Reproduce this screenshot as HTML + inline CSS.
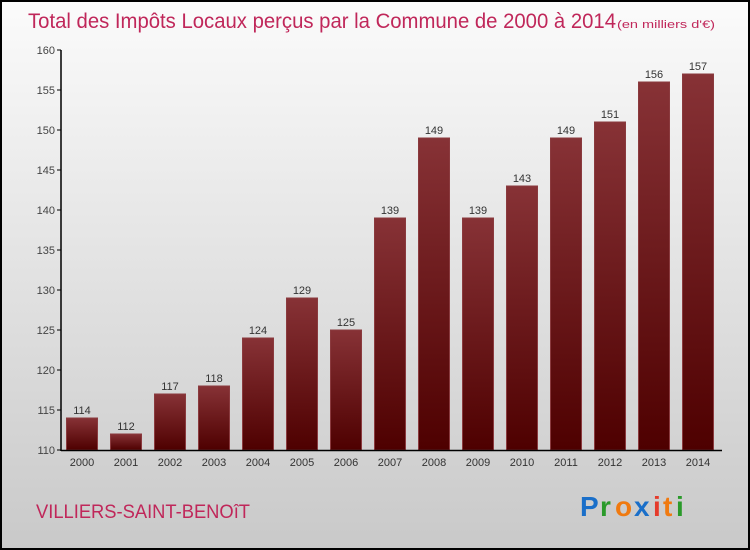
<!DOCTYPE html>
<html><head><meta charset="utf-8"><style>
body{margin:0;width:750px;height:550px;overflow:hidden}
svg{display:block}
</style></head><body>
<svg id="c" width="750" height="550" xmlns="http://www.w3.org/2000/svg" font-family="Liberation Sans, sans-serif">
<defs>
<linearGradient id="bg" x1="0" y1="0" x2="0" y2="1"><stop offset="0" stop-color="#fbfbfb"/><stop offset="1" stop-color="#c9c9c9"/></linearGradient>
<linearGradient id="bar" x1="0" y1="0" x2="0" y2="1"><stop offset="0" stop-color="#873236"/><stop offset="1" stop-color="#4e0000"/></linearGradient>
</defs>
<rect x="1" y="1" width="748" height="548" fill="url(#bg)" stroke="#000" stroke-width="2"/>
<text x="28" y="28" font-size="21" fill="#c0275a" textLength="588" lengthAdjust="spacingAndGlyphs">Total des Impôts Locaux perçus par la Commune de 2000 à 2014</text>
<text x="617" y="28" font-size="11" fill="#c0275a" textLength="98" lengthAdjust="spacingAndGlyphs">(en milliers d'€)</text>
<g id="yaxis"></g><g id="bars"></g><g id="xaxis"></g>
<line x1="61" y1="50" x2="61" y2="451" stroke="#000" stroke-width="1.5"/>
<line x1="61" y1="450.5" x2="722" y2="450.5" stroke="#000" stroke-width="1.5"/>
<text x="36" y="518" font-size="19" fill="#c0275a" textLength="214" lengthAdjust="spacingAndGlyphs">VILLIERS-SAINT-BENOîT</text>
<g font-size="28" font-weight="bold">
<text x="580" y="516" fill="#1a6fc9">P</text><text x="600" y="516" fill="#2a9a2a">r</text><text x="615" y="516" fill="#f07a10">o</text><text x="634" y="516" fill="#1a6fc9">x</text><text x="653" y="516" fill="#e53b2b">i</text><text x="663" y="516" fill="#f07a10">t</text><text x="676" y="516" fill="#2a9a2a">i</text>
</g>
</svg>
<script>
const years=["2000","2001","2002","2003","2004","2005","2006","2007","2008","2009","2010","2011","2012","2013","2014"];
const values=[114,112,117,118,124,129,125,139,149,139,143,149,151,156,157];
const yTicks=[110,115,120,125,130,135,140,145,150,155,160];
const NS="http://www.w3.org/2000/svg";
const y=v=>450-(v-110)*8;
const x=i=>82+i*44;
function mk(t,a,p,txt){const e=document.createElementNS(NS,t);for(const k in a)e.setAttribute(k,a[k]);if(txt!=null)e.textContent=txt;p.appendChild(e);return e;}
const ya=document.getElementById('yaxis'),bs=document.getElementById('bars'),xa=document.getElementById('xaxis');
yTicks.forEach(t=>{
 const l=mk('line',{x1:57,x2:61,y1:y(t),y2:y(t),stroke:'#000'},ya);
 
 
 const s=mk('text',{x:55,y:y(t)+4,'font-size':11,fill:'#444','text-anchor':'end'},ya,t);
 
 
});
values.forEach((v,i)=>{
 const r=mk('rect',{x:x(i)-15.5,y:y(v),width:31,height:450-y(v),fill:'url(#bar)',stroke:'#8a3a3e','stroke-width':1},bs);
 
 
 const t=mk('text',{x:x(i),y:y(v)-4,'font-size':11,fill:'#333','text-anchor':'middle'},bs,v);
 
 
 const xl=mk('text',{x:x(i),y:466,'font-size':11,fill:'#333','text-anchor':'middle'},xa,years[i]);
 
 
});
</script>
</body></html>
